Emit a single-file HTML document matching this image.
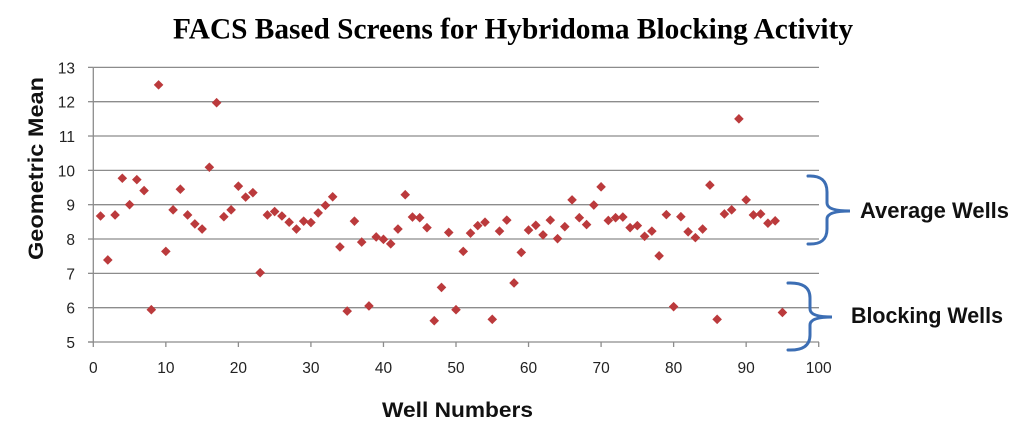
<!DOCTYPE html>
<html><head><meta charset="utf-8">
<style>
html,body{margin:0;padding:0;background:#fff;}
svg{display:block;}
</style></head>
<body>
<svg id="c" width="1026" height="434" viewBox="0 0 1026 434" xmlns="http://www.w3.org/2000/svg">
<rect width="1026" height="434" fill="#fff"/>
<text x="173" y="38.5" font-family="'Liberation Serif',serif" font-weight="bold" font-size="30" textLength="680" lengthAdjust="spacingAndGlyphs" fill="#000">FACS Based Screens for Hybridoma Blocking Activity</text>
<g id="grid" stroke="#8c8c8c" stroke-width="1.3" fill="none"></g>
<g id="labels" font-family="'Liberation Sans',sans-serif" font-size="15.5" fill="#222"></g>
<g id="pts" fill="#bb3a3c"></g>
<text transform="translate(43,168.5) rotate(-90)" text-anchor="middle" font-family="'Liberation Sans',sans-serif" font-weight="bold" font-size="21" textLength="183" lengthAdjust="spacingAndGlyphs" fill="#111">Geometric  Mean</text>
<text x="382" y="417" font-family="'Liberation Sans',sans-serif" font-weight="bold" font-size="21" textLength="151" lengthAdjust="spacingAndGlyphs" fill="#111">Well Numbers</text>
<g stroke="#3c6eb4" stroke-width="3" fill="none" stroke-linecap="round">
<path d="M808 176 Q827 175 827 192 L827 203 Q827 211 850 211 Q827 211 827 219 L827 229 Q827 245 808 244"/>
<path d="M788 283 Q810 282 810 298 L810 309 Q810 317 832 317 Q810 317 810 325 L810 335 Q810 351 788 350"/>
</g>
<text x="860" y="218" font-family="'Liberation Sans',sans-serif" font-weight="bold" font-size="22" textLength="149" lengthAdjust="spacingAndGlyphs" fill="#111">Average Wells</text>
<text x="851" y="323" font-family="'Liberation Sans',sans-serif" font-weight="bold" font-size="22" textLength="152" lengthAdjust="spacingAndGlyphs" fill="#111">Blocking Wells</text>
</svg>
<script>
(function(){
var NS="http://www.w3.org/2000/svg";
var X0=93.3,XS=7.254,Y5=342,YS=34.33;
function px(n){return X0+XS*n;}
function py(v){return Y5-YS*(v-5);}
function el(t,a,p){var e=document.createElementNS(NS,t);for(var k in a)e.setAttribute(k,a[k]);p.appendChild(e);return e;}
var g=document.getElementById('grid'),L=document.getElementById('labels'),P=document.getElementById('pts');
for(var v=5;v<=13;v++){
  var y=py(v);
  if(v>5) el('line',{x1:X0,y1:y,x2:819,y2:y},g);
  el('line',{x1:88,y1:y,x2:X0,y2:y},g);
  var t=el('text',{x:75,y:y+6,'text-anchor':'end'},L);t.textContent=v;
}
el('line',{x1:X0,y1:py(13),x2:X0,y2:Y5},g);
el('line',{x1:88,y1:Y5,x2:819,y2:Y5},g);
for(var n=0;n<=100;n+=10){
  var x=px(n);
  el('line',{x1:x,y1:Y5,x2:x,y2:347},g);
  var t2=el('text',{x:x,y:373,'text-anchor':'middle'},L);t2.textContent=n;
}
var d=[8.67,7.39,8.70,9.77,9.00,9.73,9.41,5.94,12.49,7.64,8.85,9.45,8.70,8.44,8.29,10.09,11.97,8.65,8.85,9.54,9.22,9.35,7.02,8.70,8.80,8.67,8.49,8.29,8.52,8.48,8.76,8.98,9.23,7.77,5.90,8.52,7.91,6.05,8.06,7.99,7.86,8.29,9.29,8.64,8.62,8.33,5.62,6.59,8.19,5.94,7.64,8.17,8.39,8.49,5.66,8.23,8.55,6.72,7.61,8.26,8.40,8.12,8.55,8.01,8.36,9.14,8.62,8.42,8.99,9.52,8.54,8.62,8.64,8.33,8.39,8.08,8.23,7.51,8.71,6.03,8.65,8.21,8.04,8.29,9.57,5.66,8.73,8.85,11.50,9.14,8.70,8.73,8.46,8.53,5.86];
var h=4.8;
for(var i=0;i<d.length;i++){
  var cx=px(i+1),cy=py(d[i]);
  el('polygon',{points:(cx)+','+(cy-h)+' '+(cx+h)+','+cy+' '+cx+','+(cy+h)+' '+(cx-h)+','+cy},P);
}
})();
</script>
</body></html>
